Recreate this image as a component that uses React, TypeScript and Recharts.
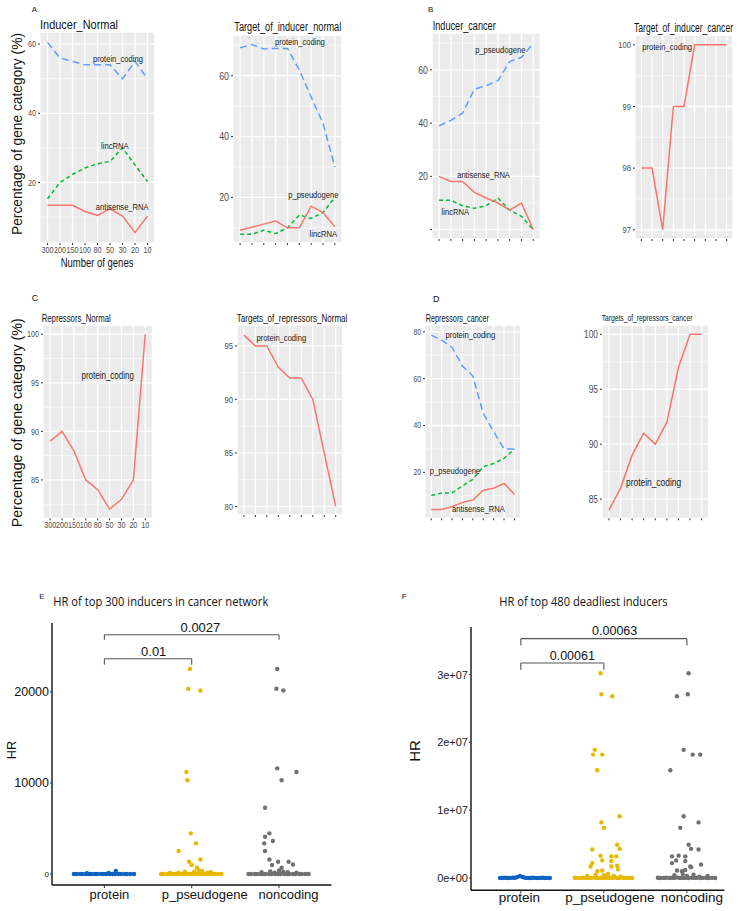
import React from 'react';
import {
  LineChart, Line, XAxis, YAxis, CartesianGrid, ReferenceLine, ReferenceDot,
  ScatterChart, Scatter,
} from 'recharts';

// ---------------------------------------------------------------------------
// Fonts / colours
// ---------------------------------------------------------------------------

const SANS = '"Liberation Sans", Arial, sans-serif';
const HUMAN = '"Open Sans", "Noto Sans", sans-serif';
const SQUEEZE = 0.8; // the small ggplot panels are horizontally squeezed

const RED = '#F8766D';
const GREEN = '#00BA38';
const BLUE = '#619CFF';

const C_PROT = '#0D62C0';
const C_PSEU = '#E9B800';
const C_NONC = '#717171';

// ---------------------------------------------------------------------------
// Data — percentage of gene category vs number of genes
// ---------------------------------------------------------------------------

const GENE_COUNTS = ['300', '200', '150', '100', '80', '50', '30', '20', '10'];
const POS = [1, 2, 3, 4, 5, 6, 7, 8, 9];

// A  Inducer_Normal
const A_PROTEIN = [60.5, 56, 55, 54, 54, 54, 50, 55, 50];
const A_LINC = [15.3, 20, 22.3, 24.2, 25.4, 26.1, 30, 25, 20.3];
const A_ANTISENSE = [13.4, 13.4, 13.4, 11.6, 10.5, 12.4, 10.3, 5.5, 10.3];

// A  Target_of_inducer_normal
const A2_PROTEIN = [69.2, 70.3, 68.8, 69, 69, 61.9, 53, 44.3, 30];
const A2_RED = [9.2, 10.2, 11.2, 12.2, 10, 10, 17.1, 15, 10.3];
const A2_GREEN = [7.9, 7.9, 9.2, 8.1, 10, 14.2, 13.1, 15, 20];

// B  Inducer_cancer
const B_BLUE = [39, 41, 43.7, 52.7, 54, 55.9, 63.1, 64.7, 69.8];
const B_RED = [20, 18.1, 18.1, 14, 11.9, 10, 7.3, 10, 0];
const B_GREEN = [11, 11, 9, 8, 9, 11.9, 7.3, 5, 0];

// B  Target_of_inducer_cancer
const B2_RED = [98, 98, 97, 99, 99, 100, 100, 100, 100];

// C  Repressors_Normal / Targets_of_repressors_Normal
const C_RED = [89, 90, 88, 85, 84, 82, 83, 85, 100];
const C2_RED = [96, 95, 95, 93, 92, 92, 90, 85, 80];

// D  Repressors_cancer
const D_BLUE = [78.6, 76.5, 73.3, 65.4, 61.1, 45.2, 37.4, 29.9, 30];
const D_GREEN = [10.1, 11.2, 11.2, 14.3, 17, 22.4, 23.8, 26, 30];
const D_RED = [4.2, 4.2, 5.3, 7.2, 8.2, 12.4, 13.2, 15.3, 10.6];

// D  Targets_of_repressors_cancer
const D2_RED = [84, 86, 89, 91, 90, 92, 97, 100, 100];

// ---------------------------------------------------------------------------
// Data — HR scatter (E, F). dx = horizontal jitter around the category
// ---------------------------------------------------------------------------

const HR_CATS = ['protein', 'p_pseudogene', 'noncoding'];

const BASE_DX = [-0.35, -0.32, -0.28, -0.25, -0.21, -0.18, -0.15, -0.11, -0.08, -0.04, -0.01,
  0.02, 0.06, 0.09, 0.12, 0.16, 0.19, 0.23, 0.26, 0.3, 0.34];
const E_BASE_HR = [2, 1, 3, 1, 2, 4, 1, 3, 2, 5, 1, 2, 6, 3, 2, 1, 4, 2, 1, 3, 2];

const E_PROT_DX = [0.13, 0.05, -0.2];
const E_PROT_HR = [330, 120, 90];
const E_PSEU_DX = [-0.02, -0.04, 0.1, -0.06, -0.05, -0.01, 0.05, -0.15, -0.03, 0.1, 0, 0.06,
  -0.15, -0.08, 0.03, 0.08, 0.12, 0.18, -0.25, 0.22];
const E_PSEU_HR = [22500, 20330, 20140, 11200, 10290, 4470, 3370, 2530, 1350, 1600, 990, 700,
  150, 250, 300, 450, 350, 150, 120, 200];
const E_NONC_DX = [-0.02, -0.03, 0.05, -0.02, 0.2, 0.03, -0.16, -0.11, -0.16, -0.07, -0.17, -0.16,
  -0.11, -0.01, 0.11, -0.08, 0.16, 0.03, -0.2, -0.1, -0.05, 0, 0.05, 0.1, 0.2];
const E_NONC_HR = [22500, 20330, 20140, 11600, 11200, 10290, 7280, 4470, 4100, 3630, 3370, 2530,
  1600, 1350, 1350, 990, 1050, 700, 200, 300, 150, 400, 250, 200, 150];

const F_PROT_DX = [-0.25, -0.22, -0.19, -0.16, -0.13, -0.1, -0.07, -0.04, -0.01, 0.02, 0.05,
  0.08, 0.11, 0.14, 0.17, 0.2, 0.23, 0.26, 0.29, 0.32, 0.35];
const F_PROT_HR = [2e4, 1e4, 3e4, 1e4, 2e4, 4e4, 5e4, 1.5e5, 3e5, 1.5e5, 4e4, 2e4, 1e4, 3e4,
  2e4, 1e4, 2e4, 3e4, 1e4, 2e4, 1e4];
const F_BASE_HR = [3e4, 1e4, 2e4, 5e4, 1e4, 3e4, 2e4, 6e4, 1e4, 2e4, 4e4, 1e4, 3e4, 2e4, 5e4,
  1e4, 2e4, 3e4, 1e4, 2e4, 1e4];
const F_PSEU_DX = [-0.04, -0.03, 0.1, -0.11, -0.13, -0.02, -0.08, -0.03, 0, 0.19, -0.14, 0.16,
  0.19, -0.04, 0.09, 0.15, -0.14, -0.02, 0.09, -0.16, 0.16, 0.09, -0.08, -0.02, 0.17,
  -0.2, -0.1, 0, 0.05, 0.12, 0.2];
const F_PSEU_HR = [3.02e7, 2.71e7, 2.68e7, 1.89e7, 1.82e7, 1.82e7, 1.59e7, 8.2e6, 7.4e6, 9.1e6,
  4.2e6, 4.9e6, 4.3e6, 3.3e6, 3.2e6, 3.2e6, 2.2e6, 2.6e6, 2.5e6, 1.7e6, 1.8e6, 1.7e6,
  1.0e6, 1.1e6, 1.3e6, 3e5, 5e5, 4e5, 6e5, 3e5, 2e5];
const F_NONC_DX = [0.02, -0.12, 0.01, -0.04, 0.07, 0.16, -0.2, -0.04, -0.08, 0.14, 0.02, 0.05,
  0.14, -0.18, -0.1, -0.02, -0.18, -0.13, -0.02, 0.17, 0.04, 0.05, -0.12, -0.06, -0.02,
  -0.15, -0.05, 0, 0.08, 0.15, 0.25];
const F_NONC_HR = [3.02e7, 2.68e7, 2.71e7, 1.89e7, 1.82e7, 1.82e7, 1.59e7, 9.1e6, 7.4e6, 8.2e6,
  4.9e6, 4.3e6, 4.2e6, 3.2e6, 3.3e6, 3.2e6, 2.2e6, 2.6e6, 2.5e6, 2.0e6, 1.7e6, 1.6e6,
  1.1e6, 1.0e6, 1.2e6, 4e5, 6e5, 3e5, 5e5, 2e5, 3e5];

// ---------------------------------------------------------------------------
// Squeezed text helpers (ticks + in-panel labels)
// ---------------------------------------------------------------------------

const SqueezedTick = (p: any) => {
  const { x, y, payload, nSize, nAxis, nFmt } = p;
  const label = nFmt(payload.value);
  if (!label) return null;
  const isX = nAxis === 'x';
  return (
    <g transform={`translate(${x},${y}) scale(${SQUEEZE},1)`}>
      <text x={0} y={isX ? nSize * 0.75 : nSize * 0.35} textAnchor={isX ? 'middle' : 'end'}
        fontSize={nSize} fill="#4D4D4D" fontFamily={SANS}>
        {label}
      </text>
    </g>
  );
};

const NoteLabel = (p: any) => {
  const vb = p.viewBox || {};
  const cx = vb.x + (vb.width || 0) / 2;
  const cy = vb.y + (vb.height || 0) / 2;
  return (
    <g transform={`translate(${cx},${cy}) scale(${SQUEEZE},1)`}>
      <text x={0} y={p.nSize * 0.35} textAnchor="middle" fontSize={p.nSize} fill="#1A1A1A" fontFamily={SANS}>
        {p.nText}
      </text>
    </g>
  );
};

const PlainLabel = (p: any) => {
  const vb = p.viewBox || {};
  const cx = vb.x + (vb.width || 0) / 2;
  const cy = vb.y + (vb.height || 0) / 2;
  return (
    <text x={cx} y={cy + p.nSize * 0.35} textAnchor="middle" fontSize={p.nSize} fill="#111" fontFamily={SANS}>
      {p.nText}
    </text>
  );
};

// ---------------------------------------------------------------------------
// Line panel (ggplot-like grey panel)
// ---------------------------------------------------------------------------

type Series = { key: string; values: number[]; color: string; dash?: string };
type Note = { x: number; y: number; text: string };

function LinePanel(props: {
  rect: [number, number, number, number];
  domain: [number, number];
  ticks: number[];
  minor: number[];
  series: Series[];
  notes: Note[];
  tickFont: number;
  noteFont: number;
  xLabels?: boolean;
  hideZero?: boolean;
}) {
  const { rect, domain, ticks, minor, series, notes, tickFont, noteFont, xLabels, hideZero } = props;
  const [x0, y0, x1, y1] = rect;
  const gutter = 40;
  const top = 5;
  const right = 5;
  const xh = xLabels ? 18 : 8;

  const data = POS.map((p, i) => {
    const row: any = { pos: p };
    series.forEach((s) => { row[s.key] = s.values[i]; });
    return row;
  });

  const xFmt = (v: number) => (xLabels ? GENE_COUNTS[v - 1] : '');
  const yFmt = (v: number) => (hideZero && v === 0 ? '' : String(v));

  return (
    <div style={{ position: 'absolute', left: x0 - gutter, top: y0 - top }}>
      <LineChart
        width={x1 - x0 + gutter + right}
        height={y1 - y0 + top + xh}
        data={data}
        margin={{ top, right, left: 0, bottom: 0 }}
      >
        <CartesianGrid fill="#EBEBEB" stroke="#FFFFFF" strokeWidth={1.3} />
        {minor.map((v) => (
          <ReferenceLine key={v} y={v} stroke="#FFFFFF" strokeWidth={0.6} />
        ))}
        <XAxis
          type="number" dataKey="pos" domain={[0.4, 9.6]} ticks={POS} allowDataOverflow
          interval={0} height={xh} axisLine={false} tickSize={2} tickMargin={1}
          tickLine={{ stroke: '#333' }}
          tick={<SqueezedTick nSize={tickFont} nAxis="x" nFmt={xFmt} />}
        />
        <YAxis
          type="number" domain={domain} ticks={ticks} allowDataOverflow interval={0}
          width={gutter} axisLine={false} tickSize={2} tickMargin={2}
          tickLine={{ stroke: '#333' }}
          tick={<SqueezedTick nSize={tickFont} nAxis="y" nFmt={yFmt} />}
        />
        {series.map((s) => (
          <Line
            key={s.key} dataKey={s.key} type="linear" stroke={s.color} strokeWidth={1.5}
            strokeDasharray={s.dash} dot={false} activeDot={false} isAnimationActive={false}
          />
        ))}
        {notes.map((n) => (
          <ReferenceDot
            key={n.text} x={n.x} y={n.y} r={0} fill="none" stroke="none"
            label={<NoteLabel nText={n.text} nSize={noteFont} />}
          />
        ))}
      </LineChart>
    </div>
  );
}

// ---------------------------------------------------------------------------
// HR scatter panel
// ---------------------------------------------------------------------------

type Group = { color: string; pts: { x: number; y: number }[] };
type Bracket = { from: number; to: number; low: number; high: number; text: string; tx: number; ty: number };

function pts(center: number, dx: number[], hr: number[]) {
  return dx.map((d, i) => ({ x: center + d, y: hr[i] }));
}

function HrPanel(props: {
  rect: [number, number, number, number];
  xMax: number;
  domain: [number, number];
  ticks: number[];
  groups: Group[];
  brackets: Bracket[];
  yTick: any;
  shift: number[];
  catFont: number;
  catDy: number;
  noteFont: number;
}) {
  const { rect, xMax, domain, ticks, groups, brackets, yTick, shift, catFont, catDy, noteFont } = props;
  const [x0, y0, x1, y1] = rect;
  const gutter = 50;
  const right = 4;
  const top = 20;
  const xh = 22;

  const CatTick = (p: any) => {
    const i = Math.round(p.payload.value) - 1;
    return (
      <text x={p.x + shift[i]} y={p.y + catDy} textAnchor="middle" fontSize={catFont}
        fill="#111" fontFamily={SANS}>
        {HR_CATS[i]}
      </text>
    );
  };

  const segs: any[] = [];
  brackets.forEach((b, i) => {
    segs.push(<ReferenceLine key={`l${i}`} segment={[{ x: b.from, y: b.low }, { x: b.from, y: b.high }]} stroke="#555" strokeWidth={1.1} />);
    segs.push(<ReferenceLine key={`m${i}`} segment={[{ x: b.from, y: b.high }, { x: b.to, y: b.high }]} stroke="#555" strokeWidth={1.1} />);
    segs.push(<ReferenceLine key={`r${i}`} segment={[{ x: b.to, y: b.high }, { x: b.to, y: b.low }]} stroke="#555" strokeWidth={1.1} />);
    segs.push(
      <ReferenceDot key={`t${i}`} x={b.tx} y={b.ty} r={0} fill="none" stroke="none"
        label={<PlainLabel nText={b.text} nSize={noteFont} />} />,
    );
  });

  return (
    <div style={{ position: 'absolute', left: x0 - gutter, top: y0 - top }}>
      <ScatterChart
        width={x1 - x0 + gutter + right}
        height={y1 - y0 + top + xh}
        margin={{ top, right, left: 0, bottom: 0 }}
      >
        <XAxis
          type="number" dataKey="x" domain={[0.4, xMax]} ticks={[1, 2, 3]} allowDataOverflow
          interval={0} height={xh} tickSize={3} tickMargin={2}
          axisLine={{ stroke: '#111', strokeWidth: 1.4 }} tickLine={{ stroke: '#333' }}
          tick={<CatTick />}
        />
        <YAxis
          type="number" dataKey="y" domain={domain} ticks={ticks} allowDataOverflow interval={0}
          width={gutter} tickSize={2} tickMargin={1}
          axisLine={{ stroke: '#111', strokeWidth: 1.4 }} tickLine={{ stroke: '#333' }}
          tick={yTick}
        />
        {groups.map((g, i) => (
          <Scatter
            key={i} data={g.pts} fill={g.color} isAnimationActive={false}
            shape={(p: any) => <circle cx={p.cx} cy={p.cy} r={2.2} fill={g.color} />}
          />
        ))}
        {segs}
      </ScatterChart>
    </div>
  );
}

const ETick = (p: any) => {
  const v = p.payload.value;
  const small = v === 0;
  return (
    <text x={p.x} y={p.y} dy={small ? 3 : 4.5} textAnchor="end" fontSize={small ? 8 : 12.5}
      fill="#111" fontFamily={SANS}>
      {String(v)}
    </text>
  );
};

const FTick = (p: any) => {
  const v = p.payload.value;
  const label = v === 0 ? '0e+00' : `${Math.round(v / 1e7)}e+07`;
  return (
    <text x={p.x} y={p.y} dy={4} textAnchor="end" fontSize={11} fill="#222" fontFamily={SANS}>
      {label}
    </text>
  );
};

// ---------------------------------------------------------------------------
// Free text (titles, panel letters, axis titles)
// ---------------------------------------------------------------------------

type Txt = { t: string; x: number; y: number; size: number; len?: number; font?: string; rot?: boolean };

const TEXTS: Txt[] = [
  { t: 'A', x: 31.7, y: 11.7, size: 8 },
  { t: 'Inducer_Normal', x: 40, y: 29, size: 13, len: 78 },
  { t: 'Target_of_inducer_normal', x: 234.3, y: 31, size: 12.5, len: 107 },
  { t: 'B', x: 428, y: 12, size: 8 },
  { t: 'Inducer_cancer', x: 432.7, y: 30, size: 12.5, len: 63 },
  { t: 'Target_of_inducer_cancer', x: 634, y: 31.5, size: 12.5, len: 99 },
  { t: 'Percentage of gene category (%)', x: 17, y: 134, size: 14, len: 202, rot: true },
  { t: 'Number of genes', x: 60.7, y: 266.5, size: 12.5, len: 72.7 },
  { t: 'C', x: 31.7, y: 300.7, size: 9 },
  { t: 'Repressors_Normal', x: 41.7, y: 321.5, size: 10, len: 69 },
  { t: 'Targets_of_repressors_Normal', x: 236.7, y: 322, size: 10.5, len: 110.7 },
  { t: 'D', x: 433, y: 301.5, size: 9 },
  { t: 'Repressors_cancer', x: 425.7, y: 321.5, size: 10, len: 63.3 },
  { t: 'Targets_of_repressors_cancer', x: 601.7, y: 321, size: 9.5, len: 90.7 },
  { t: 'Percentage of gene category (%)', x: 17, y: 422.8, size: 14.3, len: 209, rot: true },
  { t: 'E', x: 39.3, y: 599.3, size: 8 },
  { t: 'HR of top 300 inducers in cancer network', x: 53.3, y: 605.5, size: 12, len: 215, font: HUMAN },
  { t: 'HR', x: 11.7, y: 750, size: 13, len: 18.3, rot: true },
  { t: 'F', x: 401.7, y: 599, size: 8 },
  { t: 'HR of top 480 deadliest inducers', x: 499.3, y: 606, size: 12, len: 168.3, font: HUMAN },
  { t: 'HR', x: 414, y: 751, size: 15, len: 21.7, rot: true },
];

function Overlay() {
  return (
    <svg width={739} height={911} style={{ position: 'absolute', left: 0, top: 0, pointerEvents: 'none' }}>
      {TEXTS.map((d, i) => {
        const common: any = {
          fontSize: d.size,
          fontFamily: d.font ?? SANS,
          fill: '#111',
        };
        if (d.len) {
          common.textLength = d.len;
          common.lengthAdjust = 'spacingAndGlyphs';
        }
        return d.rot ? (
          <text key={i} x={d.x} y={d.y} transform={`rotate(-90 ${d.x} ${d.y})`} textAnchor="middle"
            dominantBaseline="central" {...common}>{d.t}</text>
        ) : (
          <text key={i} x={d.x} y={d.y} {...common}>{d.t}</text>
        );
      })}
    </svg>
  );
}

// ---------------------------------------------------------------------------
// App
// ---------------------------------------------------------------------------

export default function App() {
  const eGroups: Group[] = [
    { color: C_PROT, pts: [...pts(1, BASE_DX, E_BASE_HR), ...pts(1, E_PROT_DX, E_PROT_HR)] },
    { color: C_PSEU, pts: [...pts(2, BASE_DX, E_BASE_HR), ...pts(2, E_PSEU_DX, E_PSEU_HR)] },
    { color: C_NONC, pts: [...pts(3, BASE_DX, E_BASE_HR), ...pts(3, E_NONC_DX, E_NONC_HR)] },
  ];
  const fGroups: Group[] = [
    { color: C_PROT, pts: pts(1, F_PROT_DX, F_PROT_HR) },
    { color: C_PSEU, pts: [...pts(2, BASE_DX, F_BASE_HR), ...pts(2, F_PSEU_DX, F_PSEU_HR)] },
    { color: C_NONC, pts: [...pts(3, BASE_DX, F_BASE_HR), ...pts(3, F_NONC_DX, F_NONC_HR)] },
  ];

  return (
    <div style={{ position: 'absolute', left: 0, top: 0, width: 739, height: 911, background: '#fff', overflow: 'hidden' }}>
      <LinePanel
        rect={[40, 32, 155, 243]} domain={[2.5, 63.5]} ticks={[20, 40, 60]} minor={[10, 30, 50]}
        tickFont={9} noteFont={9.5} xLabels
        series={[
          { key: 'protein', values: A_PROTEIN, color: BLUE, dash: '7 4' },
          { key: 'linc', values: A_LINC, color: GREEN, dash: '4 3' },
          { key: 'antisense', values: A_ANTISENSE, color: RED },
        ]}
        notes={[
          { x: 6.64, y: 55.7, text: 'protein_coding' },
          { x: 6.38, y: 30.75, text: 'lincRNA' },
          { x: 6.98, y: 12.9, text: 'antisense_RNA' },
        ]}
      />
      <LinePanel
        rect={[233, 35, 342, 243]} domain={[5, 73.4]} ticks={[20, 40, 60]} minor={[10, 30, 50, 70]}
        tickFont={11} noteFont={9.5}
        series={[
          { key: 'protein', values: A2_PROTEIN, color: BLUE, dash: '7 4' },
          { key: 'green', values: A2_GREEN, color: GREEN, dash: '4 3' },
          { key: 'red', values: A2_RED, color: RED },
        ]}
        notes={[
          { x: 6.05, y: 71.2, text: 'protein_coding' },
          { x: 7.18, y: 20.95, text: 'p_pseudogene' },
          { x: 8.02, y: 8.1, text: 'lincRNA' },
        ]}
      />
      <LinePanel
        rect={[431.7, 33.3, 540, 239.3]} domain={[-3.5, 73.8]} ticks={[0, 20, 40, 60]} minor={[10, 30, 50, 70]}
        tickFont={11} noteFont={9.5} hideZero
        series={[
          { key: 'blue', values: B_BLUE, color: BLUE, dash: '7 4' },
          { key: 'green', values: B_GREEN, color: GREEN, dash: '4 3' },
          { key: 'red', values: B_RED, color: RED },
        ]}
        notes={[
          { x: 6.2, y: 67.65, text: 'p_pseudogene' },
          { x: 4.78, y: 20.8, text: 'antisense_RNA' },
          { x: 2.38, y: 6.7, text: 'lincRNA' },
        ]}
      />
      <LinePanel
        rect={[635, 35, 733, 239]} domain={[96.85, 100.16]} ticks={[97, 98, 99, 100]} minor={[97.5, 98.5, 99.5]}
        tickFont={9.5} noteFont={9.5}
        series={[{ key: 'red', values: B2_RED, color: RED }]}
        notes={[{ x: 3.42, y: 99.97, text: 'protein_coding' }]}
      />
      <LinePanel
        rect={[43.3, 325, 152.7, 518.3]} domain={[81.05, 100.95]} ticks={[85, 90, 95, 100]}
        minor={[82.5, 87.5, 92.5, 97.5]} tickFont={9} noteFont={10} xLabels
        series={[{ key: 'red', values: C_RED, color: RED }]}
        notes={[{ x: 5.84, y: 95.78, text: 'protein_coding' }]}
      />
      <LinePanel
        rect={[236.7, 325, 342.3, 515]} domain={[79.2, 96.95]} ticks={[80, 85, 90, 95]}
        minor={[82.5, 87.5, 92.5]} tickFont={9.5} noteFont={9.5}
        series={[{ key: 'red', values: C2_RED, color: RED }]}
        notes={[{ x: 4.26, y: 95.74, text: 'protein_coding' }]}
      />
      <LinePanel
        rect={[425, 325, 520.7, 518.3]} domain={[0.4, 82.9]} ticks={[20, 40, 60, 80]}
        minor={[10, 30, 50, 70]} tickFont={8.5} noteFont={9.5}
        series={[
          { key: 'blue', values: D_BLUE, color: BLUE, dash: '7 4' },
          { key: 'green', values: D_GREEN, color: GREEN, dash: '4 3' },
          { key: 'red', values: D_RED, color: RED },
        ]}
        notes={[
          { x: 4.76, y: 78.97, text: 'protein_coding' },
          { x: 3.28, y: 20.7, text: 'p_pseudogene' },
          { x: 5.53, y: 4.3, text: 'antisense_RNA' },
        ]}
      />
      <LinePanel
        rect={[601.7, 325, 708.3, 518.3]} domain={[83.25, 100.85]} ticks={[85, 90, 95, 100]}
        minor={[87.5, 92.5, 97.5]} tickFont={10.5} noteFont={10.5}
        series={[{ key: 'red', values: D2_RED, color: RED }]}
        notes={[{ x: 4.85, y: 86.55, text: 'protein_coding' }]}
      />

      <HrPanel
        rect={[52.3, 623, 331.7, 885]} xMax={3.6} domain={[-1200, 27550]} ticks={[0, 10000, 20000]}
        groups={eGroups} yTick={<ETick />} shift={[5, 13, 9.5]} catFont={13} catDy={9} noteFont={13}
        brackets={[
          { from: 1, to: 2, low: 22967, high: 23626, text: '0.01', tx: 1.565, ty: 24460 },
          { from: 1, to: 3, low: 25714, high: 26264, text: '0.0027', tx: 2.1, ty: 27100 },
        ]}
      />
      <HrPanel
        rect={[470.7, 626.7, 724, 890]} xMax={3.45} domain={[-1.81e6, 3.702e7]} ticks={[0, 1e7, 2e7, 3e7]}
        groups={fGroups} yTick={<FTick />} shift={[-1.5, 6, 5]} catFont={13.5} catDy={7} noteFont={12.5}
        brackets={[
          { from: 1, to: 2, low: 3.07e7, high: 3.17e7, text: '0.00061', tx: 1.62, ty: 3.285e7 },
          { from: 1, to: 3, low: 3.43e7, high: 3.53e7, text: '0.00063', tx: 2.13, ty: 3.646e7 },
        ]}
      />

      <Overlay />
    </div>
  );
}
